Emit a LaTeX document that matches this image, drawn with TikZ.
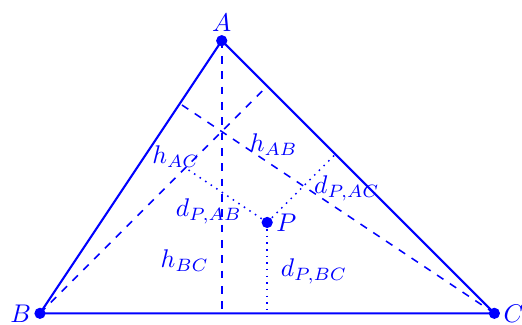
\documentclass[tikz,border=0pt]{standalone}
\begin{document}
\begin{tikzpicture}[scale=1.25, every node/.style={blue},
  dot/.style={circle, fill=blue, inner sep=0pt, minimum size=4.4pt},
  alt/.style={blue, semithick, dashed},
  dist/.style={blue, semithick, dotted}]
  \useasboundingbox (-0.44, -0.118) rectangle (5.304, 3.448);

  % Vertices and the inner point
  \node[dot] (A) at (2, 3) {};
  \node[dot] (B) at (0, 0) {};
  \node[dot] (C) at (5, 0) {};
  \node[dot] (P) at (2.5, 1) {};
  \node[above] (lA) at (A.center) {$A$};
  \node[left] (lB) at (B.center) {$B$};
  \node[right] (lC) at (C.center) {$C$};
  \node[right] (lP) at (P.center) {$P$};

  % Feet of the altitudes and of the distances from P
  \coordinate (HA) at (2, 0);
  \coordinate (HB) at (2.5, 2.5);
  \coordinate (HC) at ({20/13}, {30/13});
  \coordinate (FBC) at (2.5, 0);
  \coordinate (FAC) at (3.25, 1.75);
  \coordinate (FAB) at (1.6, 1.6);

  % Triangle
  \draw[blue, thick] (A.center) -- (B.center) -- (C.center) -- cycle;

  % Altitudes
  \draw[alt] (A.center) -- (HA);
  \draw[alt] (B.center) -- (HB);
  \draw[alt] (C.center) -- (HC);

  % Distances from P to the sides
  \draw[dist] (P.center) -- (FBC);
  \draw[dist] (P.center) -- (FAC);
  \draw[dist] (P.center) -- (FAB);

  % Labels
  \node (lhAB) at (2.572, 1.852) {$h_{AB}$};
  \node (lhAC) at (1.497, 1.726) {$h_{AC}$};
  \node (lhBC) at (1.592, 0.581) {$h_{BC}$};
  \node (ldAB) at (1.857, 1.126) {$d_{P,AB}$};
  \node (ldAC) at (3.378, 1.373) {$d_{P,AC}$};
  \node (ldBC) at (3.015, 0.466) {$d_{P,BC}$};
\end{tikzpicture}
\end{document}
